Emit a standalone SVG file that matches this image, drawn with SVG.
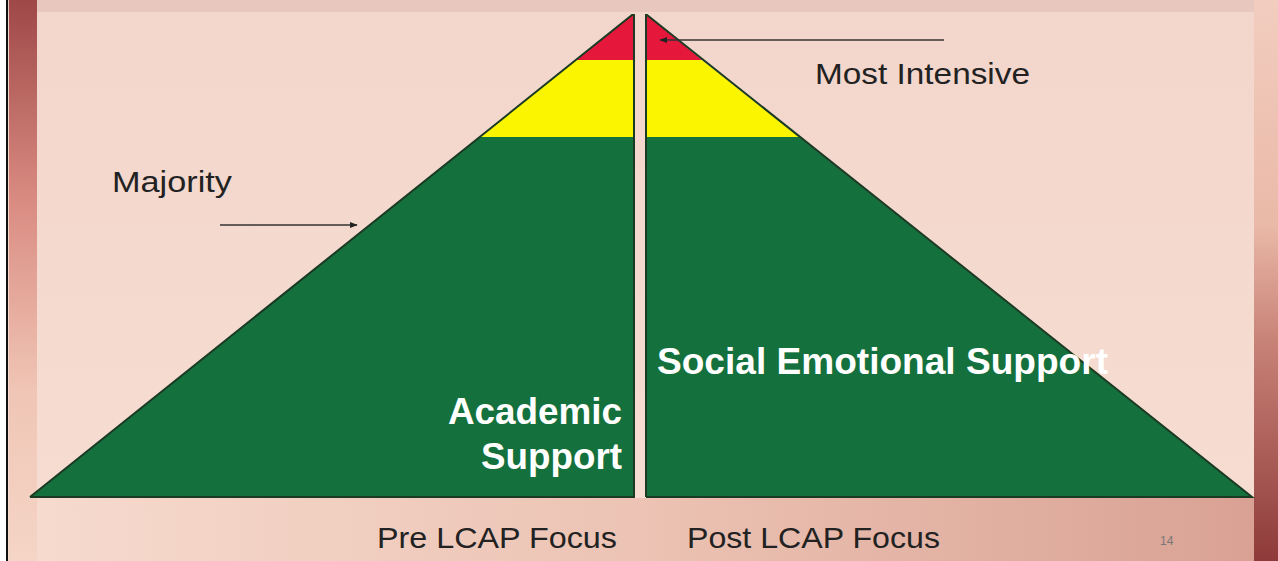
<svg xmlns="http://www.w3.org/2000/svg" width="1278" height="561" viewBox="0 0 1278 561">
<defs>
<linearGradient id="bg" x1="0" y1="0" x2="0" y2="1">
<stop offset="0" stop-color="#f3d6cb"/>
<stop offset="1" stop-color="#f6ddd2"/>
</linearGradient>
<linearGradient id="leftBar" x1="0" y1="0" x2="0" y2="1">
<stop offset="0" stop-color="#9e4848"/>
<stop offset="0.35" stop-color="#d98a80"/>
<stop offset="0.7" stop-color="#f0c6b6"/>
<stop offset="1" stop-color="#f5d5c6"/>
</linearGradient>
<linearGradient id="rightBar" x1="0" y1="0" x2="0" y2="1">
<stop offset="0" stop-color="#f2cdbf"/>
<stop offset="0.4" stop-color="#eab9a8"/>
<stop offset="0.6" stop-color="#c98478"/>
<stop offset="1" stop-color="#8e3a3a"/>
</linearGradient>
<linearGradient id="bottomBand" x1="0" y1="0" x2="1" y2="0">
<stop offset="0" stop-color="#f6dccf"/>
<stop offset="0.5" stop-color="#ecc3b4"/>
<stop offset="1" stop-color="#d8a092"/>
</linearGradient>
<marker id="arr" viewBox="0 0 10 10" refX="9" refY="5" markerWidth="6" markerHeight="6" orient="auto">
<path d="M0,1 L10,5 L0,9 z" fill="#222"/>
</marker>
<style>
.lbl{font-family:"Liberation Sans",Arial,sans-serif;fill:#222;font-size:29px}
.wt{font-family:"Liberation Sans",Arial,sans-serif;fill:#fff;font-weight:bold;font-size:36px}
.green{fill:#14703c}
.yellow{fill:#fbf500}
.red{fill:#e5173a}
.edge{fill:none;stroke:#1b3a24;stroke-width:2}
.conn{stroke:#333;stroke-width:1.3;fill:none}
</style>
</defs>
<rect width="1278" height="561" fill="url(#bg)"/>
<rect x="0" y="498" width="1278" height="63" fill="url(#bottomBand)"/>
<rect x="0" y="0" width="1278" height="12" fill="#e8c8be"/>
<rect x="0" y="0" width="8" height="561" fill="#fff"/>
<rect x="6" y="0" width="2" height="561" fill="#111"/>
<rect x="9" y="0" width="28" height="561" fill="url(#leftBar)"/>
<rect x="1254" y="0" width="24" height="561" fill="url(#rightBar)"/>

<g id="pyramid-pre">
<polygon class="green" points="30,497 480,137 633,137 633,497"/>
<polygon class="yellow" points="480,137 576,60 633,60 633,137"/>
<polygon class="red" points="576,60 632,15 633,15 633,60"/>
<polyline class="edge" points="30,497 632,15 634,15 634,497 30,497"/>
</g>
<g id="pyramid-post">
<polygon class="green" points="646,137 799,137 1252,497 646,497"/>
<polygon class="yellow" points="646,60 702,60 799,137 646,137"/>
<polygon class="red" points="646,15 647,15 702,60 646,60"/>
<polyline class="edge" points="646,497 646,15 647,15 1252,497 646,497"/>
</g>

<g id="connectors">
<line class="conn" x1="220" y1="225" x2="357" y2="225" marker-end="url(#arr)"/>
<line class="conn" x1="944" y1="40" x2="660" y2="40" marker-end="url(#arr)"/>
</g>

<g id="labels">
<text class="lbl" x="112" y="192" textLength="120" lengthAdjust="spacingAndGlyphs">Majority</text>
<text class="lbl" x="815" y="84" textLength="215" lengthAdjust="spacingAndGlyphs">Most Intensive</text>
<text class="wt" x="448" y="424" textLength="174" lengthAdjust="spacingAndGlyphs">Academic</text>
<text class="wt" x="481" y="469" textLength="141" lengthAdjust="spacingAndGlyphs">Support</text>
<text class="wt" x="657" y="374" textLength="451" lengthAdjust="spacingAndGlyphs">Social Emotional Support</text>
<text class="lbl" x="377" y="548" textLength="240" lengthAdjust="spacingAndGlyphs">Pre LCAP Focus</text>
<text class="lbl" x="687" y="548" textLength="253" lengthAdjust="spacingAndGlyphs">Post LCAP Focus</text>
<text x="1160" y="545" font-family="Liberation Sans, Arial, sans-serif" font-size="12" fill="#777">14</text>
</g>
</svg>
